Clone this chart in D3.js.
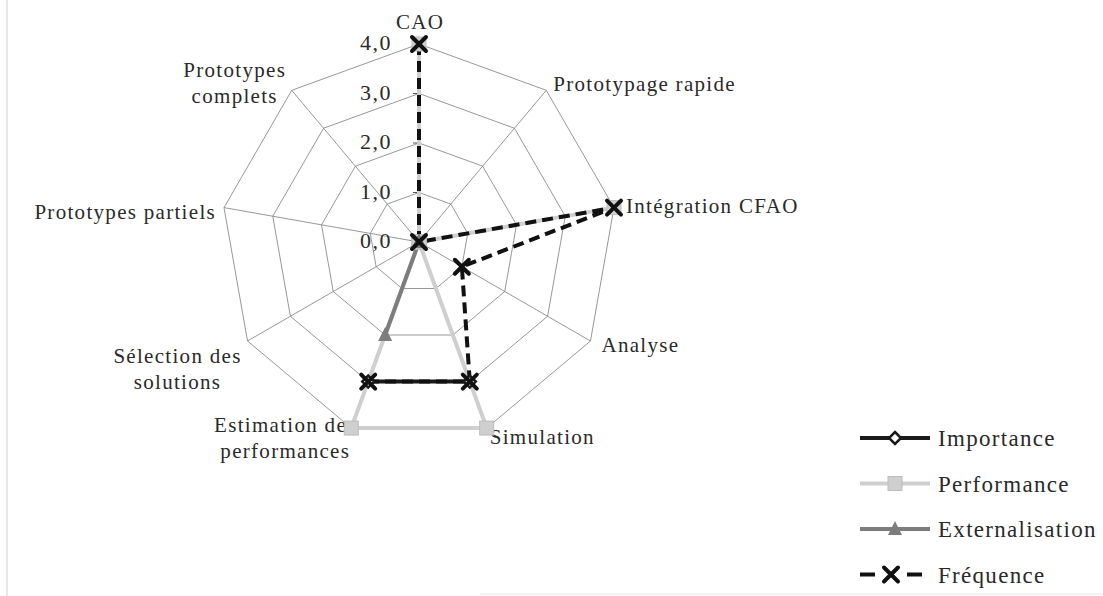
<!DOCTYPE html>
<html>
<head>
<meta charset="utf-8">
<script src="https://cdn.jsdelivr.net/npm/d3@7"></script>
<style>
  body { margin: 0; background: #fff; }
  svg text { font-family: "Liberation Serif", "Times New Roman", serif; fill: #2a2a2a; }
</style>
</head>
<body>
<svg id="chart" width="1103" height="596"></svg>
<script>
// axes of the radar (clockwise from top)
const axes = ["CAO", "Prototypage rapide", "Intégration CFAO", "Analyse", "Simulation",
  "Estimation des performances", "Sélection des solutions", "Prototypes partiels", "Prototypes complets"];
const axisLines = [["CAO"], ["Prototypage rapide"], ["Intégration CFAO"], ["Analyse"], ["Simulation"],
  ["Estimation des", "performances"], ["Sélection des", "solutions"], ["Prototypes partiels"], ["Prototypes", "complets"]];

// series values (null = empty cell, not drawn)
const importance = [null, null, null, null, 3, 3, null, null, null];
const performance = [4, 0, 4, 0, 4, 4, 0, 0, 0];
const externalisation = [0, 0, 0, 0, 0, 2, 0, 0, 0];
const frequence = [4, 0, 4, 1, 3, 3, null, null, null];

const ticks = [0, 1, 2, 3, 4];
const tickLabels = ["0,0", "1,0", "2,0", "3,0", "4,0"];
const seriesNames = ["Importance", "Performance", "Externalisation", "Fréquence"];

// label placement relative to the outer vertex of each axis
const labelLayout = [
  { anchor: "middle", dx: 1, dy: -15 },
  { anchor: "start", dx: 7, dy: 1 },
  { anchor: "start", dx: 12, dy: 5 },
  { anchor: "start", dx: 11, dy: 11 },
  { anchor: "start", dx: 3, dy: 16 },
  { anchor: "middle", dx: -66, dy: 4 },
  { anchor: "middle", dx: -70, dy: 22 },
  { anchor: "end", dx: -8, dy: 11 },
  { anchor: "middle", dx: -57, dy: -13 }
];

const svg = d3.select("#chart");
const cx = 419, cy = 242;
const r = d3.scaleLinear().domain([0, 4]).range([0, 198]);
const angle = d3.scaleLinear().domain([0, axes.length]).range([0, 2 * Math.PI]);
const px = (i, v) => cx + r(v) * Math.sin(angle(i));
const py = (i, v) => cy - r(v) * Math.cos(angle(i));

// frame lines of the scanned page
svg.append("line").attr("x1", 7).attr("x2", 7).attr("y1", 0).attr("y2", 596)
  .attr("stroke", "#d0d0d0").attr("stroke-width", 1);
svg.append("line").attr("x1", 480).attr("x2", 1103).attr("y1", 594).attr("y2", 594)
  .attr("stroke", "#e6e6e6").attr("stroke-width", 1);

// grid rings
const grid = svg.append("g");
ticks.filter(t => t > 0).forEach(t => {
  grid.append("path")
    .attr("d", d3.line()(axes.map((a, i) => [px(i, t), py(i, t)])) + "Z")
    .attr("fill", "none").attr("stroke", "#8c8c8c").attr("stroke-width", 0.9);
});
// spokes
grid.selectAll(".spoke").data(axes).enter().append("line")
  .attr("x1", cx).attr("y1", cy)
  .attr("x2", (d, i) => px(i, 4)).attr("y2", (d, i) => py(i, 4))
  .attr("stroke", "#8c8c8c").attr("stroke-width", 0.9);
// tick marks on value axis
grid.selectAll(".tick").data(ticks).enter().append("line")
  .attr("x1", cx - 6).attr("x2", cx)
  .attr("y1", d => py(0, d)).attr("y2", d => py(0, d))
  .attr("stroke", "#555").attr("stroke-width", 1);

// tick labels
svg.append("g").selectAll("text").data(ticks).enter().append("text")
  .attr("x", cx - 27).attr("y", d => py(0, d) + 6)
  .attr("text-anchor", "end").attr("font-size", 22).attr("letter-spacing", 1.5)
  .text((d, i) => tickLabels[i]);

// axis labels
const lab = svg.append("g");
axisLines.forEach((lines, i) => {
  const L = labelLayout[i];
  const t = lab.append("text")
    .attr("text-anchor", L.anchor).attr("font-size", 21).attr("letter-spacing", 1.3);
  lines.forEach((s, k) => {
    t.append("tspan").attr("x", px(i, 4) + L.dx).attr("y", py(i, 4) + L.dy + k * 26).text(s);
  });
});

// series drawing
const series = [
  { name: seriesNames[0], values: importance, color: "#1a1a1a", dash: null, marker: "diamond" },
  { name: seriesNames[1], values: performance, color: "#cfcfcf", dash: null, marker: "square" },
  { name: seriesNames[2], values: externalisation, color: "#7d7d7d", dash: null, marker: "triangle" },
  { name: seriesNames[3], values: frequence, color: "#111", dash: "11,6", marker: "cross" }
];

const radial = d3.lineRadial()
  .defined(d => d.v != null)
  .angle(d => angle(d.i))
  .radius(d => r(d.v));

function drawMarker(g, type, x, y, color) {
  if (type === "diamond") {
    g.append("path").attr("d", `M${x},${y - 6}L${x + 6},${y}L${x},${y + 6}L${x - 6},${y}Z`)
      .attr("fill", "#fff").attr("stroke", color).attr("stroke-width", 2.5);
  } else if (type === "square") {
    g.append("rect").attr("x", x - 7).attr("y", y - 7).attr("width", 14).attr("height", 14)
      .attr("fill", color).attr("stroke", "#bdbdbd").attr("stroke-width", 1);
  } else if (type === "triangle") {
    g.append("path").attr("d", `M${x},${y - 8}L${x + 7},${y + 6}L${x - 7},${y + 6}Z`)
      .attr("fill", color);
  } else {
    g.append("path").attr("d", `M${x - 7},${y - 7}L${x + 7},${y + 7}M${x + 7},${y - 7}L${x - 7},${y + 7}`)
      .attr("stroke", color).attr("stroke-width", 4).attr("stroke-linecap", "round");
  }
}

const plot = svg.append("g");
series.forEach(s => {
  const pts = s.values.map((v, i) => ({ i, v }));
  pts.push({ i: s.values.length, v: s.values[0] }); // close the loop
  plot.append("path")
    .attr("transform", `translate(${cx},${cy})`)
    .attr("d", radial(pts))
    .attr("fill", "none").attr("stroke", s.color).attr("stroke-width", 4)
    .attr("stroke-dasharray", s.dash);
});
series.forEach(s => {
  const g = plot.append("g");
  s.values.forEach((v, i) => {
    if (v != null) drawMarker(g, s.marker, px(i, v), py(i, v), s.color);
  });
});

// legend
const legend = svg.append("g");
series.forEach((s, k) => {
  const y = 438 + k * 45.5;
  const x2 = s.marker === "cross" ? 922 : 930;
  legend.append("line").attr("x1", 860).attr("x2", x2).attr("y1", y).attr("y2", y)
    .attr("stroke", s.color).attr("stroke-width", 4)
    .attr("stroke-dasharray", s.dash ? "15,32" : null);
  drawMarker(legend, s.marker, s.marker === "cross" ? 891 : 895, y, s.color);
  legend.append("text").attr("x", 938).attr("y", y + 8)
    .attr("font-size", 23).attr("letter-spacing", 1.3).text(s.name);
});
</script>
</body>
</html>
